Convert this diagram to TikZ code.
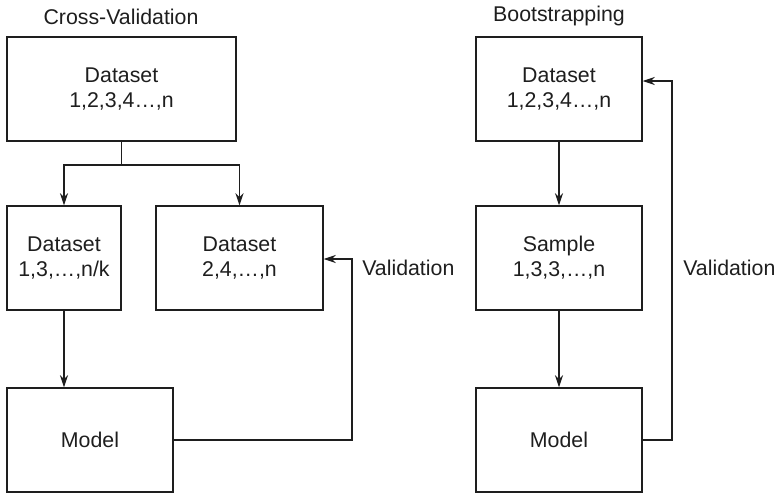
\documentclass[tikz,border=0pt]{standalone}
\usepackage{fontspec}
\setmainfont{Liberation Sans}
\usetikzlibrary{arrows.meta}
\definecolor{ink}{HTML}{1E1E1E}
\begin{document}
\begin{tikzpicture}[x=0.75pt,y=-0.75pt,
  font=\fontsize{16}{18.75}\selectfont,
  box/.style={draw=ink,line width=1.1pt,rectangle,align=center,inner sep=0pt,minimum height=78pt,text=ink},
  lbl/.style={inner sep=0pt,text=ink},
  conn/.style={draw=ink,line width=1.1pt},
  arr/.style={conn,-{Stealth[length=9pt,width=6pt]}}]
\useasboundingbox (0,0) rectangle (776,493);
% Cross-validation
\node[lbl] (t1) at (121,17) {Cross-Validation};
\node[box,minimum width=171.75pt] (cvtop) at (121.5,89) {Dataset\\1,2,3,4…,n};
\node[box,minimum width=85.5pt] (cvl) at (64,258) {Dataset\\1,3,…,n/k};
\node[box,minimum width=125.25pt] (cvr) at (239.5,258) {Dataset\\2,4,…,n};
\node[box,minimum width=124.5pt] (cvm) at (90,440) {Model};
\node[lbl,anchor=west] (v1) at (362,268) {Validation};
\coordinate (split) at (121.5,165);
\coordinate (cvret) at (352,440);
\draw[conn] (cvtop.south) -- (split);
\draw[arr] (split) -| (cvl.north);
\draw[arr] (split) -| (cvr.north);
\draw[arr] (cvl.south) -- (cvl.south |- cvm.north);
\draw[arr] (cvm.east) -- (cvret) |- ([yshift=-0.75pt]cvr.east);
% Bootstrapping
\node[lbl] (t2) at (559,16) {Bootstrapping};
\node[box,minimum width=124.5pt] (bstop) at (559,89) {Dataset\\1,2,3,4…,n};
\node[box,minimum width=124.5pt] (bss) at (559,258) {Sample\\1,3,3,…,n};
\node[box,minimum width=124.5pt] (bsm) at (559,440) {Model};
\node[lbl,anchor=west] (v2) at (683,268) {Validation};
\coordinate (bsret) at (672,440);
\draw[arr] (bstop.south) -- (bss.north);
\draw[arr] (bss.south) -- (bsm.north);
\draw[arr] (bsm.east) -- (bsret) |- ([yshift=6pt]bstop.east);
\end{tikzpicture}
\end{document}
